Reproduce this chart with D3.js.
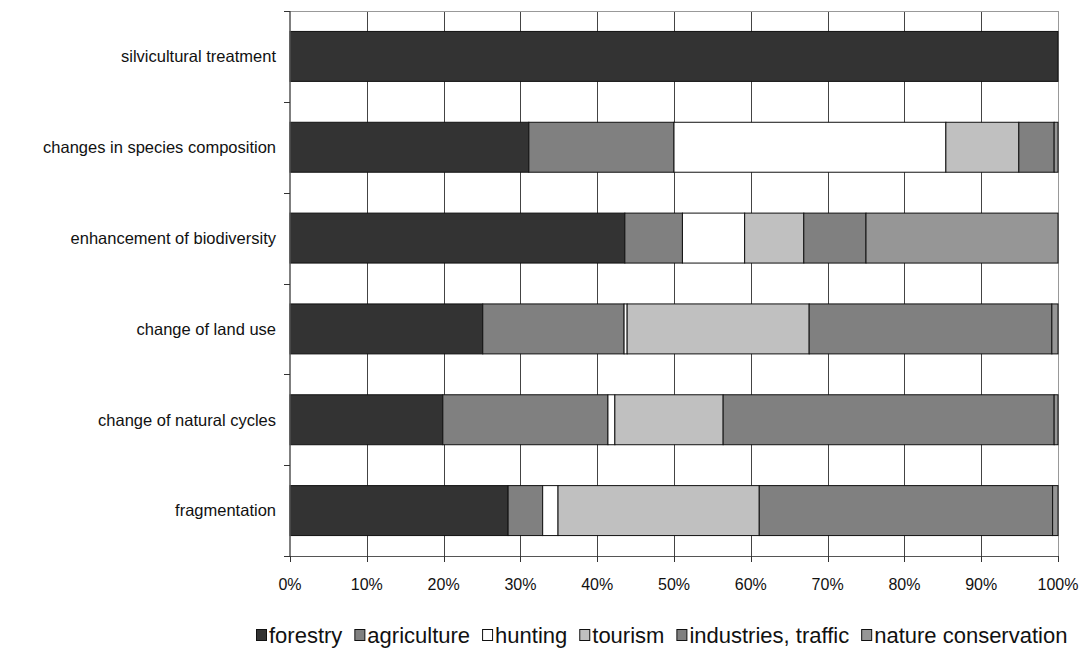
<!DOCTYPE html>
<html><head><meta charset="utf-8">
<script src="https://cdn.jsdelivr.net/npm/d3@7"></script>
<style>body{margin:0;background:#fff}svg{display:block;font-family:"Liberation Sans",Arial,sans-serif}</style>
</head><body><svg id="c" width="1083" height="648"></svg>
<script>
const categories = ["silvicultural treatment","changes in species composition","enhancement of biodiversity","change of land use","change of natural cycles","fragmentation"];
const seriesNames = ["forestry","agriculture","hunting","tourism","industries, traffic","nature conservation"];
const seriesColors = ["#333333","#808080","#ffffff","#c0c0c0","#808080","#969696"];
const forestry    = [100, 31.1, 43.6, 25.1, 19.9, 28.4];
const agriculture = [0, 18.9, 7.5, 18.4, 21.5, 4.5];
const hunting     = [0, 35.4, 8.1, 0.4, 0.9, 2.0];
const tourism     = [0, 9.5, 7.7, 23.7, 14.1, 26.2];
const industries  = [0, 4.6, 8.1, 31.6, 43.1, 38.2];
const nature      = [0, 0.5, 25.0, 0.8, 0.5, 0.7];
const tickValues = [0,10,20,30,40,50,60,70,80,90,100];
const tickLabels = ["0%","10%","20%","30%","40%","50%","60%","70%","80%","90%","100%"];

const series = [forestry, agriculture, hunting, tourism, industries, nature];
const svg = d3.select("#c");
const L = 290, R = 1058, T = 11, B = 556;
const x = d3.scaleLinear().domain([0,100]).range([L,R]);
const y = d3.scaleBand().domain(categories).range([T,B]).paddingInner(0.45).paddingOuter(0.225);

// grid
svg.append("g").selectAll("line").data(tickValues.slice(1,-1)).join("line")
  .attr("x1", d=>Math.round(x(d))+0.5).attr("x2", d=>Math.round(x(d))+0.5).attr("y1", T).attr("y2", B)
  .attr("stroke", "#444").attr("stroke-width", 1);
// plot border top/right
svg.append("line").attr("x1",L).attr("x2",R).attr("y1",T+0.5).attr("y2",T+0.5).attr("stroke","#999");
svg.append("line").attr("x1",R+0.5).attr("x2",R+0.5).attr("y1",T).attr("y2",B).attr("stroke","#999");

// stacked bars
const rows = categories.map((c,i)=>{ let acc=0; return series.map((s,k)=>{ const r={cat:c,k,x0:acc,x1:acc+s[i]}; acc+=s[i]; return r; }); }).flat().filter(d=>d.x1>d.x0);
svg.append("g").selectAll("rect").data(rows).join("rect")
  .attr("x", d=>x(d.x0)).attr("width", d=>x(d.x1)-x(d.x0))
  .attr("y", d=>y(d.cat)).attr("height", y.bandwidth())
  .attr("fill", d=>seriesColors[d.k]).attr("stroke","#111").attr("stroke-width",1);

// y axis
const yb = d3.scaleLinear().domain([0,6]).range([T,B]);
svg.append("line").attr("x1",L).attr("x2",L).attr("y1",T).attr("y2",B).attr("stroke","#555").attr("stroke-width",1.5);
svg.append("g").selectAll("line").data(d3.range(7)).join("line")
  .attr("x1",L-6).attr("x2",L).attr("y1",d=>Math.round(yb(d))+0.5).attr("y2",d=>Math.round(yb(d))+0.5).attr("stroke","#333");
svg.append("g").selectAll("text").data(categories).join("text")
  .attr("x", 276).attr("y", d=>y(d)+y.bandwidth()/2).attr("dy","0.35em")
  .attr("text-anchor","end").attr("font-size",16.5).attr("fill","#111").text(d=>d);

// x axis
svg.append("line").attr("x1",L).attr("x2",R).attr("y1",B+0.5).attr("y2",B+0.5).attr("stroke","#555").attr("stroke-width",1);
svg.append("g").selectAll("line").data(tickValues).join("line")
  .attr("x1",d=>Math.round(x(d))+0.5).attr("x2",d=>Math.round(x(d))+0.5).attr("y1",B).attr("y2",B+6).attr("stroke","#333");
svg.append("g").selectAll("text").data(tickValues).join("text")
  .attr("x", d=>x(d)).attr("y", 584).attr("dy","0.35em").attr("text-anchor","middle")
  .attr("font-size",16).attr("fill","#111").text((d,i)=>tickLabels[i]);

// legend
const lg = svg.append("g");
let lx = 256;
seriesNames.forEach((n,k)=>{
  lg.append("rect").attr("x",lx+0.5).attr("y",629.5).attr("width",10).attr("height",11)
    .attr("fill",seriesColors[k]).attr("stroke","#111");
  const t = lg.append("text").attr("x",lx+13).attr("y",635).attr("dy","0.35em")
    .attr("font-size",22).attr("fill","#111").text(n);
  lx += 13 + t.node().getComputedTextLength() + 12;
});
</script></body></html>
